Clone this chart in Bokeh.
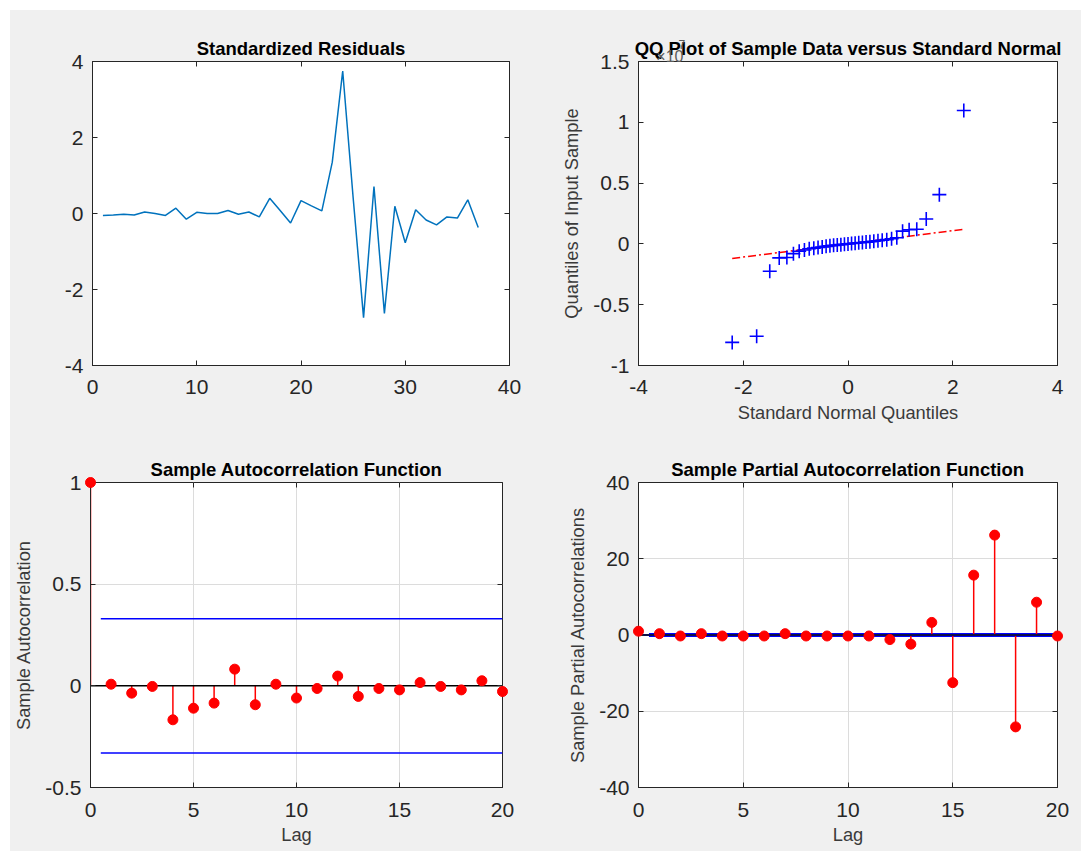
from bokeh.plotting import figure
from bokeh.models import Range1d, FixedTicker, LinearAxis, CustomJSTickFormatter, ColumnDataSource, Spacer
from bokeh.core.properties import value
from bokeh.layouts import column, row
from bokeh.embed import file_html
from bokeh.resources import INLINE

# ---------------- data ----------------
obs = list(range(1, 38))
resid = [-0.05, -0.04, -0.02, -0.04, 0.04, 0.0, -0.05, 0.14, -0.15, 0.03,
         0.0, 0.0, 0.08, -0.02, 0.04, -0.09, 0.40, 0.08, -0.25, 0.34,
         0.20, 0.07, 1.35, 3.75, 0.42, -2.74, 0.71, -2.63, 0.19, -0.77,
         0.10, -0.17, -0.30, -0.09, -0.12, 0.36, -0.37]

qq_x = [-2.211, -1.744, -1.494, -1.313, -1.167, -1.042, -0.932, -0.832, -0.740, -0.653,
        -0.572, -0.493, -0.418, -0.345, -0.275, -0.205, -0.136, -0.068, 0.0, 0.068,
        0.136, 0.205, 0.275, 0.345, 0.418, 0.493, 0.572, 0.653, 0.740, 0.832,
        0.932, 1.042, 1.167, 1.313, 1.494, 1.744, 2.211]
qq_y = [-0.81, -0.76, -0.225, -0.115, -0.112, -0.08, -0.06, -0.05, -0.04, -0.035,
        -0.03, -0.025, -0.02, -0.015, -0.012, -0.009, -0.006, -0.003, 0.0, 0.003,
        0.006, 0.009, 0.012, 0.015, 0.018, 0.022, 0.026, 0.03, 0.035, 0.042,
        0.05, 0.105, 0.116, 0.12, 0.205, 0.405, 1.097]
qq_line_x = [-2.211, 2.211]
qq_line_y = [-0.12, 0.12]
qq_exponent = "7"

lags = list(range(0, 21))
acf = [1.0, 0.008, -0.036, -0.003, -0.167, -0.11, -0.085, 0.082, -0.093, 0.008,
       -0.06, -0.013, 0.048, -0.052, -0.013, -0.02, 0.016, -0.003, -0.02, 0.025, -0.028]
pacf = [1.0, 0.35, -0.26, 0.35, -0.26, -0.26, -0.26, 0.35, -0.26, -0.26,
        -0.26, -0.26, -1.2, -2.4, 3.3, -12.5, 15.7, 26.2, -24.1, 8.6, -0.26]
conf_bound = 0.33
bound_lags = [0.5, 20]

tl_xticks = [0, 10, 20, 30, 40]
tl_yticks = [-4, -2, 0, 2, 4]
tr_xticks = [-4, -2, 0, 2, 4]
tr_yticks = [-1, -0.5, 0, 0.5, 1, 1.5]
bl_xticks = [0, 5, 10, 15, 20]
bl_yticks = [-0.5, 0, 0.5, 1]
br_xticks = [0, 5, 10, 15, 20]
br_yticks = [-40, -20, 0, 20, 40]

# ---------------- style ----------------
AX = "#262626"
BG = "#f0f0f0"
FONT = "Liberation Sans"
BLUE_LINE = "#0072BD"


def make_fig(fw, fh, borders, xticks, yticks, title, xlabel=None, ylabel=None,
             grid=False, xstand=(14, 5)):
    l, r, t, b = borders
    p = figure(frame_width=fw, frame_height=fh,
               x_range=Range1d(xticks[0], xticks[-1]), y_range=Range1d(yticks[0], yticks[-1]),
               output_backend="svg", toolbar_location=None,
               min_border_left=l, min_border_right=r, min_border_top=t, min_border_bottom=b,
               background_fill_color="white", border_fill_color=BG,
               outline_line_color=AX, outline_line_width=1, title=title)
    p.title.text_font = FONT
    p.title.text_font_size = "18.5px"
    p.title.text_font_style = "bold"
    p.title.text_color = "black"
    p.title.align = "center"
    p.title.standoff = 5
    fmt = CustomJSTickFormatter(code="return tick.toString();")
    for ax, ticks in ((p.xaxis[0], xticks), (p.yaxis[0], yticks)):
        ax.ticker = FixedTicker(ticks=ticks)
        ax.formatter = fmt
        ax.axis_line_color = AX
        ax.major_tick_line_color = AX
        ax.major_tick_in = 5
        ax.major_tick_out = 0
        ax.minor_tick_line_color = None
        ax.major_label_text_font = FONT
        ax.major_label_text_font_size = "21px"
        ax.major_label_text_color = AX
        ax.axis_label_text_font = FONT
        ax.axis_label_text_font_size = "18.3px"
        ax.axis_label_text_font_style = "normal"
        ax.axis_label_text_color = "#3a3a3a"
    p.xaxis[0].major_label_standoff = xstand[0]
    p.xaxis[0].axis_label_standoff = xstand[1]
    p.yaxis[0].major_label_standoff = 9
    p.yaxis[0].axis_label_standoff = 8
    if xlabel:
        p.xaxis[0].axis_label = xlabel
    if ylabel:
        p.yaxis[0].axis_label = ylabel
    blank = CustomJSTickFormatter(code="return '';")
    for loc, ticks in (("above", xticks), ("right", yticks)):
        ax = LinearAxis(ticker=FixedTicker(ticks=ticks), formatter=blank, axis_line_color=None,
                        major_tick_line_color=AX, major_tick_in=5, major_tick_out=0,
                        minor_tick_line_color=None, major_label_standoff=0)
        p.add_layout(ax, loc)
    if grid:
        for g in p.grid:
            g.grid_line_color = "#dcdcdc"
            g.grid_line_width = 1
        p.xgrid[0].ticker = FixedTicker(ticks=xticks)
        p.ygrid[0].ticker = FixedTicker(ticks=yticks)
    else:
        p.grid.visible = False
    return p


# ---------------- top-left: standardized residuals ----------------
p1 = make_fig(417, 304, (82, 39, 51, 73), tl_xticks, tl_yticks, "Standardized Residuals")
p1.line(obs, resid, line_color=BLUE_LINE, line_width=1.5)

# ---------------- top-right: QQ plot ----------------
p2 = make_fig(419, 304, (90, 24, 51, 73), tr_xticks, tr_yticks,
              "QQ Plot of Sample Data versus Standard Normal",
              xlabel="Standard Normal Quantiles", ylabel="Quantiles of Input Sample")
p2.line(qq_line_x, qq_line_y, line_color="red", line_width=1.5, line_dash="8 3 2 3")
p2.scatter(qq_x, qq_y, marker="cross", size=14, line_color="blue", line_width=1.6)
p2.text(x=[tr_xticks[0]], y=[tr_yticks[-1]], text=["\u00d710"], x_offset=45, y_offset=-5,
        text_align="right", text_baseline="alphabetic", text_font=value(FONT),
        text_font_size="16px", text_color="#5a5a5a", level="overlay")
p2.text(x=[tr_xticks[0]], y=[tr_yticks[-1]], text=[qq_exponent], x_offset=40, y_offset=-17,
        text_align="left", text_baseline="alphabetic", text_font=value(FONT),
        text_font_size="12px", text_color="#5a5a5a", level="overlay")

# ---------------- bottom-left: ACF ----------------
p3 = make_fig(412, 305, (80, 46, 44, 64), bl_xticks, bl_yticks,
              "Sample Autocorrelation Function", xlabel="Lag",
              ylabel="Sample Autocorrelation", grid=True, xstand=(15, 4))
src3 = ColumnDataSource(dict(lag=lags, v=acf))
p3.line(bound_lags, [conf_bound, conf_bound], line_color="blue", line_width=1.5)
p3.line(bound_lags, [-conf_bound, -conf_bound], line_color="blue", line_width=1.5)
p3.segment(x0="lag", y0=0, x1="lag", y1="v", source=src3, line_color="red", line_width=1.5)
p3.line([lags[0], lags[-1]], [0, 0], line_color="black", line_width=1.5)
p3.scatter("lag", "v", source=src3, size=10, fill_color="red", line_color="red", level="overlay")

# ---------------- bottom-right: PACF ----------------
p4 = make_fig(419, 305, (90, 24, 44, 64), br_xticks, br_yticks,
              "Sample Partial Autocorrelation Function", xlabel="Lag",
              ylabel="Sample Partial Autocorrelations", grid=True, xstand=(15, 4))
src4 = ColumnDataSource(dict(lag=lags, v=pacf))
p4.line(bound_lags, [conf_bound, conf_bound], line_color="blue", line_width=1.5)
p4.line(bound_lags, [-conf_bound, -conf_bound], line_color="blue", line_width=1.5)
p4.segment(x0="lag", y0=0, x1="lag", y1="v", source=src4, line_color="red", line_width=1.5)
p4.line([lags[0], lags[-1]], [0, 0], line_color="#10104a", line_width=2)
p4.scatter("lag", "v", source=src4, size=10, fill_color="red", line_color="red", level="overlay")

top_row = row(p1, p2)
bottom_row = row(p3, p4)
for lay in (top_row, bottom_row):
    lay.styles = {"background-color": BG}
grid_layout = column(top_row, bottom_row)
grid_layout.styles = {"background-color": BG}
layout = column(Spacer(height=10), row(Spacer(width=10), grid_layout))
open("out.html", "w").write(file_html(layout, INLINE))
